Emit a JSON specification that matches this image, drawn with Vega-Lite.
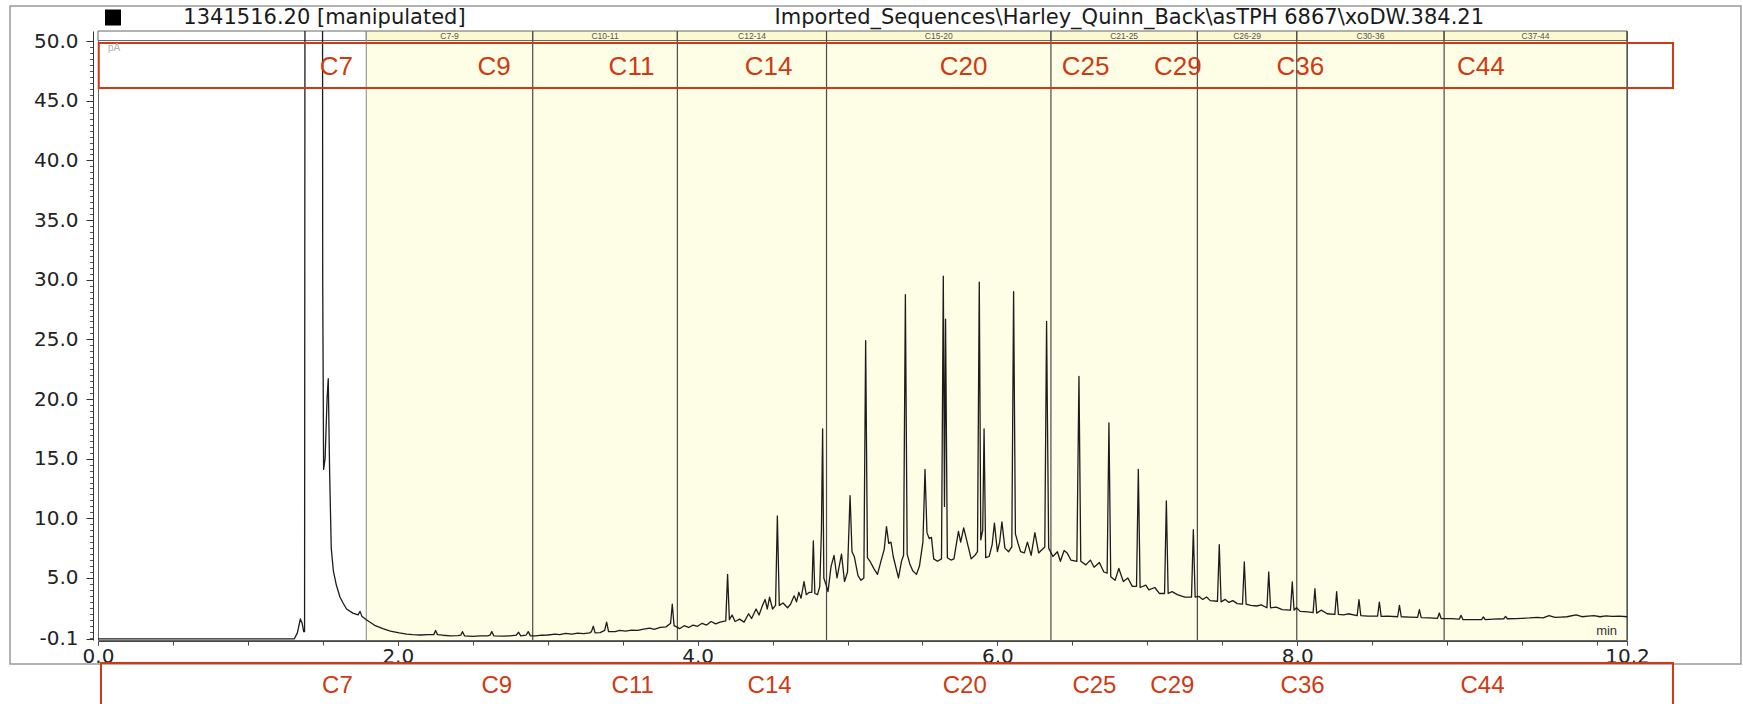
{
  "$schema": "https://vega.github.io/schema/vega-lite/v6.json",
  "width": 1529,
  "height": 609,
  "autosize": {"type": "none"},
  "padding": {"left": 98, "top": 31, "right": 116, "bottom": 64},
  "background": "white",
  "config": {"view": {"stroke": "#666666", "strokeWidth": 1}, "axis": {"grid": false, "title": null}},
  "datasets": {
    "trace": [
      {"t":0,"v":-0.1},{"t":1.31,"v":-0.1},{"t":1.33,"v":0.4},{"t":1.35,"v":1.56},{"t":1.362,"v":1.2},{"t":1.372,"v":0.5},{"t":1.378,"v":0.5},{"t":1.384,"v":120},
      {"t":1.495,"v":120},{"t":1.499,"v":30},{"t":1.505,"v":14.1},{"t":1.515,"v":15},{"t":1.528,"v":20},{"t":1.536,"v":21.7},{"t":1.545,"v":14},{"t":1.556,"v":7.5},{"t":1.57,"v":5.6},{"t":1.59,"v":4.4},{"t":1.614,"v":3.4},{"t":1.635,"v":2.9},{"t":1.658,"v":2.4},{"t":1.7,"v":2.05},{"t":1.735,"v":1.9},{"t":1.748,"v":2.2},{"t":1.76,"v":1.8},{"t":1.79,"v":1.5},{"t":1.85,"v":1.0},{"t":1.9,"v":0.75},{"t":1.95,"v":0.55},{"t":2.01,"v":0.4},
      {"t":2.06,"v":0.3},{"t":2.1,"v":0.25},{"t":2.15,"v":0.22},{"t":2.2,"v":0.25},{"t":2.24,"v":0.25},{"t":2.252,"v":0.6},{"t":2.265,"v":0.25},{"t":2.3,"v":0.2},{"t":2.35,"v":0.15},{"t":2.4,"v":0.17},{"t":2.42,"v":0.2},{"t":2.431,"v":0.5},{"t":2.445,"v":0.15},{"t":2.5,"v":0.1},{"t":2.55,"v":0.15},{"t":2.6,"v":0.15},{"t":2.615,"v":0.2},{"t":2.627,"v":0.5},{"t":2.64,"v":0.15},{"t":2.7,"v":0.12},{"t":2.75,"v":0.15},{"t":2.79,"v":0.2},{"t":2.806,"v":0.45},{"t":2.82,"v":0.15},{"t":2.855,"v":0.2},{"t":2.87,"v":0.5},{"t":2.885,"v":0.15},{"t":2.92,"v":0.15},{"t":2.96,"v":0.2},
      {"t":3.0,"v":0.22},{"t":3.05,"v":0.3},{"t":3.08,"v":0.25},{"t":3.12,"v":0.35},{"t":3.16,"v":0.3},{"t":3.2,"v":0.38},{"t":3.24,"v":0.33},{"t":3.28,"v":0.4},{"t":3.292,"v":0.5},{"t":3.304,"v":0.95},{"t":3.316,"v":0.4},{"t":3.35,"v":0.42},{"t":3.38,"v":0.6},{"t":3.393,"v":1.3},{"t":3.406,"v":0.5},{"t":3.45,"v":0.5},{"t":3.48,"v":0.6},{"t":3.52,"v":0.55},{"t":3.56,"v":0.62},{"t":3.6,"v":0.6},{"t":3.64,"v":0.72},{"t":3.68,"v":0.8},{"t":3.71,"v":0.7},{"t":3.75,"v":0.85},{"t":3.79,"v":0.9},{"t":3.82,"v":1.2},{"t":3.831,"v":2.8},{"t":3.843,"v":1.0},{"t":3.86,"v":0.9},{"t":3.88,"v":0.75},{"t":3.91,"v":1.0},{"t":3.94,"v":0.85},{"t":3.97,"v":1.05},
      {"t":4.0,"v":0.95},{"t":4.03,"v":1.2},{"t":4.06,"v":1.05},{"t":4.09,"v":1.35},{"t":4.12,"v":1.15},{"t":4.15,"v":1.3},{"t":4.188,"v":1.4},{"t":4.2,"v":5.3},{"t":4.212,"v":1.5},{"t":4.23,"v":1.9},{"t":4.25,"v":1.35},{"t":4.28,"v":1.55},{"t":4.31,"v":1.3},{"t":4.34,"v":2.0},{"t":4.36,"v":1.6},{"t":4.39,"v":2.4},{"t":4.41,"v":1.9},{"t":4.43,"v":2.6},{"t":4.45,"v":3.2},{"t":4.465,"v":2.4},{"t":4.48,"v":3.4},{"t":4.5,"v":2.4},{"t":4.52,"v":2.7},{"t":4.532,"v":10.2},{"t":4.545,"v":2.7},{"t":4.57,"v":2.9},{"t":4.6,"v":2.5},{"t":4.62,"v":2.8},{"t":4.644,"v":3.5},{"t":4.66,"v":3.0},{"t":4.675,"v":3.8},{"t":4.69,"v":3.3},{"t":4.71,"v":4.7},{"t":4.725,"v":3.6},{"t":4.745,"v":3.8},{"t":4.762,"v":3.8},{"t":4.772,"v":8.1},{"t":4.782,"v":3.7},{"t":4.8,"v":3.6},{"t":4.815,"v":4.3},{"t":4.826,"v":9},{"t":4.834,"v":17.5},{"t":4.842,"v":5.0},{"t":4.855,"v":4.5},{"t":4.87,"v":3.85},{"t":4.89,"v":5.95},{"t":4.91,"v":6.9},{"t":4.93,"v":5.0},{"t":4.96,"v":7.0},{"t":4.98,"v":4.7},
      {"t":5.0,"v":5.5},{"t":5.017,"v":11.9},{"t":5.03,"v":7.2},{"t":5.045,"v":6.8},{"t":5.07,"v":5.2},{"t":5.09,"v":4.8},{"t":5.109,"v":5.0},{"t":5.121,"v":24.9},{"t":5.133,"v":6.7},{"t":5.15,"v":6.4},{"t":5.175,"v":5.8},{"t":5.2,"v":5.3},{"t":5.225,"v":6.5},{"t":5.245,"v":7.4},{"t":5.26,"v":9.3},{"t":5.275,"v":7.9},{"t":5.29,"v":8.0},{"t":5.305,"v":6.8},{"t":5.34,"v":5.0},{"t":5.36,"v":6.4},{"t":5.374,"v":6.9},{"t":5.386,"v":28.75},{"t":5.398,"v":7.0},{"t":5.415,"v":6.2},{"t":5.435,"v":5.6},{"t":5.46,"v":5.3},{"t":5.48,"v":6.0},{"t":5.503,"v":8.0},{"t":5.517,"v":14.1},{"t":5.53,"v":8.8},{"t":5.545,"v":8.3},{"t":5.56,"v":8.4},{"t":5.575,"v":6.6},{"t":5.6,"v":6.4},{"t":5.627,"v":6.6},{"t":5.639,"v":30.3},{"t":5.647,"v":11.0},{"t":5.654,"v":26.7},{"t":5.666,"v":6.7},{"t":5.69,"v":6.5},{"t":5.71,"v":6.6},{"t":5.74,"v":8.9},{"t":5.755,"v":8.0},{"t":5.775,"v":9.2},{"t":5.8,"v":7.9},{"t":5.825,"v":6.6},{"t":5.85,"v":6.9},{"t":5.867,"v":7.2},{"t":5.879,"v":29.8},{"t":5.889,"v":8.2},{"t":5.902,"v":9.0},{"t":5.911,"v":17.5},{"t":5.922,"v":6.7},{"t":5.945,"v":6.8},{"t":5.965,"v":7.8},{"t":5.98,"v":9.6},
      {"t":6.0,"v":7.2},{"t":6.015,"v":8.0},{"t":6.03,"v":9.7},{"t":6.05,"v":7.5},{"t":6.075,"v":7.2},{"t":6.096,"v":7.6},{"t":6.108,"v":29.0},{"t":6.12,"v":8.7},{"t":6.14,"v":7.8},{"t":6.155,"v":7.2},{"t":6.18,"v":7.1},{"t":6.2,"v":8.0},{"t":6.225,"v":6.9},{"t":6.25,"v":8.8},{"t":6.275,"v":7.1},{"t":6.3,"v":7.4},{"t":6.316,"v":7.6},{"t":6.328,"v":26.5},{"t":6.334,"v":18},{"t":6.342,"v":7.5},{"t":6.37,"v":6.8},{"t":6.4,"v":7.2},{"t":6.42,"v":6.4},{"t":6.445,"v":7.3},{"t":6.465,"v":7.1},{"t":6.49,"v":6.5},{"t":6.53,"v":6.4},{"t":6.544,"v":21.9},{"t":6.556,"v":6.4},{"t":6.59,"v":6.1},{"t":6.62,"v":6.5},{"t":6.645,"v":5.9},{"t":6.68,"v":6.3},{"t":6.71,"v":5.5},{"t":6.732,"v":5.4},{"t":6.744,"v":18.0},{"t":6.756,"v":5.1},{"t":6.785,"v":4.8},{"t":6.81,"v":5.8},{"t":6.84,"v":4.7},{"t":6.87,"v":5.0},{"t":6.9,"v":4.3},{"t":6.928,"v":4.3},{"t":6.94,"v":14.1},{"t":6.952,"v":4.2},{"t":6.99,"v":4.4},
      {"t":7.01,"v":4.0},{"t":7.05,"v":4.2},{"t":7.08,"v":3.7},{"t":7.115,"v":3.7},{"t":7.127,"v":11.45},{"t":7.139,"v":3.7},{"t":7.165,"v":3.85},{"t":7.2,"v":3.6},{"t":7.25,"v":3.4},{"t":7.295,"v":3.4},{"t":7.307,"v":9.05},{"t":7.319,"v":3.4},{"t":7.345,"v":3.45},{"t":7.37,"v":3.2},{"t":7.395,"v":3.4},{"t":7.42,"v":3.1},{"t":7.468,"v":3.05},{"t":7.48,"v":7.8},{"t":7.492,"v":3.0},{"t":7.52,"v":3.2},{"t":7.545,"v":2.95},{"t":7.57,"v":3.1},{"t":7.6,"v":2.85},{"t":7.635,"v":2.8},{"t":7.647,"v":6.34},{"t":7.659,"v":2.8},{"t":7.69,"v":2.7},{"t":7.73,"v":2.65},{"t":7.76,"v":2.75},{"t":7.798,"v":2.5},{"t":7.81,"v":5.5},{"t":7.822,"v":2.5},{"t":7.86,"v":2.55},{"t":7.9,"v":2.35},{"t":7.955,"v":2.3},{"t":7.967,"v":4.66},{"t":7.979,"v":2.3},{"t":7.995,"v":2.5},
      {"t":8.02,"v":2.2},{"t":8.07,"v":2.15},{"t":8.106,"v":2.1},{"t":8.118,"v":4.1},{"t":8.13,"v":2.05},{"t":8.16,"v":2.3},{"t":8.2,"v":2.0},{"t":8.251,"v":1.95},{"t":8.263,"v":3.85},{"t":8.275,"v":1.95},{"t":8.31,"v":1.9},{"t":8.34,"v":2.0},{"t":8.4,"v":1.85},{"t":8.412,"v":3.18},{"t":8.424,"v":1.85},{"t":8.47,"v":1.8},{"t":8.536,"v":1.8},{"t":8.548,"v":2.98},{"t":8.56,"v":1.78},{"t":8.6,"v":1.8},{"t":8.67,"v":1.75},{"t":8.682,"v":2.7},{"t":8.694,"v":1.75},{"t":8.75,"v":1.72},{"t":8.803,"v":1.7},{"t":8.815,"v":2.35},{"t":8.827,"v":1.68},{"t":8.88,"v":1.65},{"t":8.936,"v":1.62},{"t":8.948,"v":2.06},{"t":8.96,"v":1.6},
      {"t":9.03,"v":1.6},{"t":9.081,"v":1.55},{"t":9.093,"v":1.87},{"t":9.105,"v":1.52},{"t":9.17,"v":1.5},{"t":9.23,"v":1.5},{"t":9.242,"v":1.73},{"t":9.254,"v":1.5},{"t":9.31,"v":1.55},{"t":9.378,"v":1.58},{"t":9.39,"v":1.78},{"t":9.402,"v":1.58},{"t":9.46,"v":1.6},{"t":9.5,"v":1.62},{"t":9.55,"v":1.65},{"t":9.6,"v":1.7},{"t":9.64,"v":1.66},{"t":9.68,"v":1.85},{"t":9.72,"v":1.7},{"t":9.76,"v":1.72},{"t":9.8,"v":1.75},{"t":9.86,"v":1.9},{"t":9.9,"v":1.75},{"t":9.94,"v":1.8},{"t":9.98,"v":1.85},{"t":10.02,"v":1.75},{"t":10.06,"v":1.82},{"t":10.1,"v":1.78},{"t":10.15,"v":1.8},{"t":10.2,"v":1.75}
    ],
    "regions": [
      {"start":0,"end":1.79,"mid":0.895,"label":""},
      {"start":1.79,"end":2.9,"mid":2.345,"label":"C7-9"},
      {"start":2.9,"end":3.865,"mid":3.3825,"label":"C10-11"},
      {"start":3.865,"end":4.86,"mid":4.3625,"label":"C12-14"},
      {"start":4.86,"end":6.357,"mid":5.6085,"label":"C15-20"},
      {"start":6.357,"end":7.334,"mid":6.8455,"label":"C21-25"},
      {"start":7.334,"end":7.997,"mid":7.6655,"label":"C26-29"},
      {"start":7.997,"end":8.98,"mid":8.4885,"label":"C30-36"},
      {"start":8.98,"end":10.2,"mid":9.59,"label":"C37-44"}
    ],
    "labels": [
      {"label":"C7","t":1.59,"row":"top"},{"label":"C9","t":2.642,"row":"top"},{"label":"C11","t":3.559,"row":"top"},{"label":"C14","t":4.474,"row":"top"},{"label":"C20","t":5.774,"row":"top"},{"label":"C25","t":6.588,"row":"top"},{"label":"C29","t":7.204,"row":"top"},{"label":"C36","t":8.021,"row":"top"},{"label":"C44","t":9.225,"row":"top"},
      {"label":"C7","t":1.597,"row":"bottom"},{"label":"C9","t":2.66,"row":"bottom"},{"label":"C11","t":3.567,"row":"bottom"},{"label":"C14","t":4.48,"row":"bottom"},{"label":"C20","t":5.782,"row":"bottom"},{"label":"C25","t":6.647,"row":"bottom"},{"label":"C29","t":7.167,"row":"bottom"},{"label":"C36","t":8.036,"row":"bottom"},{"label":"C44","t":9.236,"row":"bottom"}
    ]
  },
  "resolve": {"axis": {"y": "independent", "x": "independent"}},
  "layer": [
    {
      "data": {"values": [{}]},
      "mark": {"type": "rect", "filled": false, "stroke": "#9a9a9a", "strokeWidth": 1.5, "clip": false},
      "encoding": {
        "x": {"datum": -0.587, "type": "quantitative", "scale": {"domain": [0, 10.2], "nice": false, "zero": false}, "axis": null},
        "x2": {"datum": 10.96},
        "y": {"datum": 52.94, "type": "quantitative", "scale": {"domain": [-0.2, 50.85], "nice": false, "zero": false}, "axis": null},
        "y2": {"datum": -2.21}
      }
    },
    {
      "data": {"name": "regions"},
      "transform": [{"filter": "datum.label != ''"}],
      "mark": {"type": "rect", "fill": "#FEFDE6"},
      "encoding": {
        "x": {"field": "start", "type": "quantitative", "scale": {"domain": [0, 10.2], "nice": false, "zero": false},
          "axis": {"orient": "bottom", "offset": 1, "labels": false, "domain": false, "grid": false, "title": null, "tickSize": 4, "tickColor": "#444444", "tickWidth": 1,
            "values": [0,0.5,1,1.5,2,2.5,3,3.5,4,4.5,5,5.5,6,6.5,7,7.5,8,8.5,9,9.5,10,10.2]}},
        "x2": {"field": "end"},
        "y": {"datum": 50.05, "type": "quantitative", "scale": {"domain": [-0.2, 50.85], "nice": false, "zero": false},
          "axis": {"orient": "left", "offset": 5, "labels": false, "domain": false, "grid": false, "title": null, "tickSize": 3.5, "tickColor": "#555555", "tickWidth": 1,
            "values": [0,0.5,1,1.5,2,2.5,3,3.5,4,4.5,5,5.5,6,6.5,7,7.5,8,8.5,9,9.5,10,10.5,11,11.5,12,12.5,13,13.5,14,14.5,15,15.5,16,16.5,17,17.5,18,18.5,19,19.5,20,20.5,21,21.5,22,22.5,23,23.5,24,24.5,25,25.5,26,26.5,27,27.5,28,28.5,29,29.5,30,30.5,31,31.5,32,32.5,33,33.5,34,34.5,35,35.5,36,36.5,37,37.5,38,38.5,39,39.5,40,40.5,41,41.5,42,42.5,43,43.5,44,44.5,45,45.5,46,46.5,47,47.5,48,48.5,49,49.5,50]}},
        "y2": {"datum": -0.2}
      }
    },
    {
      "data": {"name": "regions"},
      "mark": {"type": "rect", "stroke": "#666666", "strokeWidth": 1},
      "encoding": {
        "x": {"field": "start", "type": "quantitative", "scale": {"domain": [0, 10.2], "nice": false, "zero": false}, "axis": null},
        "x2": {"field": "end"},
        "y": {"datum": 50.85, "type": "quantitative", "scale": {"domain": [-0.2, 50.85], "nice": false, "zero": false}, "axis": null},
        "y2": {"datum": 50.05},
        "color": {"condition": {"test": "datum.label == ''", "value": "#ffffff"}, "value": "#FCF9D0"}
      }
    },
    {
      "data": {"name": "regions"},
      "mark": {"type": "text", "font": "Liberation Sans", "fontSize": 8.5, "color": "#555555", "baseline": "middle", "align": "center"},
      "encoding": {
        "x": {"field": "mid", "type": "quantitative", "scale": {"domain": [0, 10.2], "nice": false, "zero": false}, "axis": null},
        "y": {"datum": 50.47, "type": "quantitative", "scale": {"domain": [-0.2, 50.85], "nice": false, "zero": false}, "axis": null},
        "text": {"field": "label"}
      }
    },
    {
      "data": {"name": "regions"},
      "transform": [{"filter": "datum.label != ''"}],
      "mark": {"type": "rule", "strokeWidth": 1.2},
      "encoding": {
        "x": {"field": "start", "type": "quantitative", "scale": {"domain": [0, 10.2], "nice": false, "zero": false}, "axis": null},
        "y": {"datum": 50.85, "type": "quantitative", "scale": {"domain": [-0.2, 50.85], "nice": false, "zero": false}, "axis": null},
        "y2": {"datum": -0.2},
        "color": {"condition": {"test": "datum.start < 1.8", "value": "#9a9a9a"}, "value": "#4a4a4a"}
      }
    },
    {
      "data": {"name": "regions"},
      "transform": [{"filter": "datum.label == 'C37-44'"}],
      "mark": {"type": "rule", "strokeWidth": 1.2, "color": "#4a4a4a"},
      "encoding": {
        "x": {"field": "end", "type": "quantitative", "scale": {"domain": [0, 10.2], "nice": false, "zero": false}, "axis": null},
        "y": {"datum": 50.85, "type": "quantitative", "scale": {"domain": [-0.2, 50.85], "nice": false, "zero": false}, "axis": null},
        "y2": {"datum": -0.2}
      }
    },
    {
      "data": {"name": "trace"},
      "mark": {"type": "line", "color": "#1c1c1c", "strokeWidth": 1.3, "strokeJoin": "round", "clip": true},
      "encoding": {
        "x": {"field": "t", "type": "quantitative", "scale": {"domain": [0, 10.2], "nice": false, "zero": false},
          "axis": {"orient": "bottom", "offset": 1, "values": [0, 2, 4, 6, 8, 10.2], "format": ".1f",
            "tickSize": 4, "tickColor": "#444444", "domainColor": "#444444", "labelFont": "DejaVu Sans", "labelFontSize": 20, "labelColor": "#222222", "labelPadding": 1, "labelFlush": false, "labelOverlap": false, "title": null, "grid": false}},
        "y": {"field": "v", "type": "quantitative", "scale": {"domain": [-0.2, 50.85], "nice": false, "zero": false},
          "axis": {"orient": "left", "offset": 5, "values": [-0.1,5,10,15,20,25,30,35,40,45,50],
            "labelExpr": "datum.value < 0 ? '-0.1' : format(datum.value, '.1f')",
            "tickSize": 7, "tickColor": "#333333", "domainColor": "#333333", "labelFont": "DejaVu Sans", "labelFontSize": 20, "labelColor": "#222222", "labelPadding": 8, "labelOverlap": false, "title": null, "grid": false}}
      }
    },
    {
      "data": {"values": [{}]},
      "mark": {"type": "rect", "filled": false, "stroke": "#D03A12", "strokeWidth": 2, "clip": false},
      "encoding": {
        "x": {"datum": 0.005, "type": "quantitative", "scale": {"domain": [0, 10.2], "nice": false, "zero": false}, "axis": null},
        "x2": {"datum": 10.507},
        "y": {"datum": 49.84, "type": "quantitative", "scale": {"domain": [-0.2, 50.85], "nice": false, "zero": false}, "axis": null},
        "y2": {"datum": 46.07}
      }
    },
    {
      "data": {"values": [{}]},
      "mark": {"type": "rect", "filled": false, "stroke": "#D03A12", "strokeWidth": 2, "clip": false},
      "encoding": {
        "x": {"datum": 0.02, "type": "quantitative", "scale": {"domain": [0, 10.2], "nice": false, "zero": false}, "axis": null},
        "x2": {"datum": 10.507},
        "y": {"datum": -2.13, "type": "quantitative", "scale": {"domain": [-0.2, 50.85], "nice": false, "zero": false}, "axis": null},
        "y2": {"datum": -6.5}
      }
    },
    {
      "data": {"name": "labels"},
      "transform": [{"filter": "datum.row == 'top'"}],
      "mark": {"type": "text", "font": "Liberation Sans", "fontSize": 26, "color": "#D03A12", "baseline": "middle", "align": "center"},
      "encoding": {
        "x": {"field": "t", "type": "quantitative", "scale": {"domain": [0, 10.2], "nice": false, "zero": false}, "axis": null},
        "y": {"datum": 47.87, "type": "quantitative", "scale": {"domain": [-0.2, 50.85], "nice": false, "zero": false}, "axis": null},
        "text": {"field": "label"}
      }
    },
    {
      "data": {"name": "labels"},
      "transform": [{"filter": "datum.row == 'bottom'"}],
      "mark": {"type": "text", "font": "Liberation Sans", "fontSize": 24, "color": "#D03A12", "baseline": "middle", "align": "center"},
      "encoding": {
        "x": {"field": "t", "type": "quantitative", "scale": {"domain": [0, 10.2], "nice": false, "zero": false}, "axis": null},
        "y": {"datum": -4.06, "type": "quantitative", "scale": {"domain": [-0.2, 50.85], "nice": false, "zero": false}, "axis": null},
        "text": {"field": "label"}
      }
    },
    {
      "data": {"values": [{}]},
      "mark": {"type": "point", "shape": "square", "filled": true, "color": "#000000", "size": 256, "opacity": 1},
      "encoding": {
        "x": {"datum": 0.1, "type": "quantitative", "scale": {"domain": [0, 10.2], "nice": false, "zero": false}, "axis": null},
        "y": {"datum": 51.98, "type": "quantitative", "scale": {"domain": [-0.2, 50.85], "nice": false, "zero": false}, "axis": null}
      }
    },
    {
      "data": {"values": [{}]},
      "mark": {"type": "text", "text": "1341516.20 [manipulated]", "font": "DejaVu Sans", "fontSize": 21, "color": "#1a1a1a", "baseline": "middle", "align": "center"},
      "encoding": {
        "x": {"datum": 1.511, "type": "quantitative", "scale": {"domain": [0, 10.2], "nice": false, "zero": false}, "axis": null},
        "y": {"datum": 51.94, "type": "quantitative", "scale": {"domain": [-0.2, 50.85], "nice": false, "zero": false}, "axis": null}
      }
    },
    {
      "data": {"values": [{}]},
      "mark": {"type": "text", "text": "Imported_Sequences\\Harley_Quinn_Back\\asTPH 6867\\xoDW.384.21", "font": "DejaVu Sans", "fontSize": 21, "color": "#1a1a1a", "baseline": "middle", "align": "center"},
      "encoding": {
        "x": {"datum": 6.88, "type": "quantitative", "scale": {"domain": [0, 10.2], "nice": false, "zero": false}, "axis": null},
        "y": {"datum": 51.94, "type": "quantitative", "scale": {"domain": [-0.2, 50.85], "nice": false, "zero": false}, "axis": null}
      }
    },
    {
      "data": {"values": [{}]},
      "mark": {"type": "text", "text": "pA", "font": "Liberation Sans", "fontSize": 10, "color": "#b0b0b0", "baseline": "middle", "align": "left"},
      "encoding": {
        "x": {"datum": 0.067, "type": "quantitative", "scale": {"domain": [0, 10.2], "nice": false, "zero": false}, "axis": null},
        "y": {"datum": 49.39, "type": "quantitative", "scale": {"domain": [-0.2, 50.85], "nice": false, "zero": false}, "axis": null}
      }
    },
    {
      "data": {"values": [{}]},
      "mark": {"type": "text", "text": "min", "font": "Liberation Sans", "fontSize": 13, "color": "#333333", "baseline": "middle", "align": "right"},
      "encoding": {
        "x": {"datum": 10.134, "type": "quantitative", "scale": {"domain": [0, 10.2], "nice": false, "zero": false}, "axis": null},
        "y": {"datum": 0.58, "type": "quantitative", "scale": {"domain": [-0.2, 50.85], "nice": false, "zero": false}, "axis": null}
      }
    }
  ]
}
